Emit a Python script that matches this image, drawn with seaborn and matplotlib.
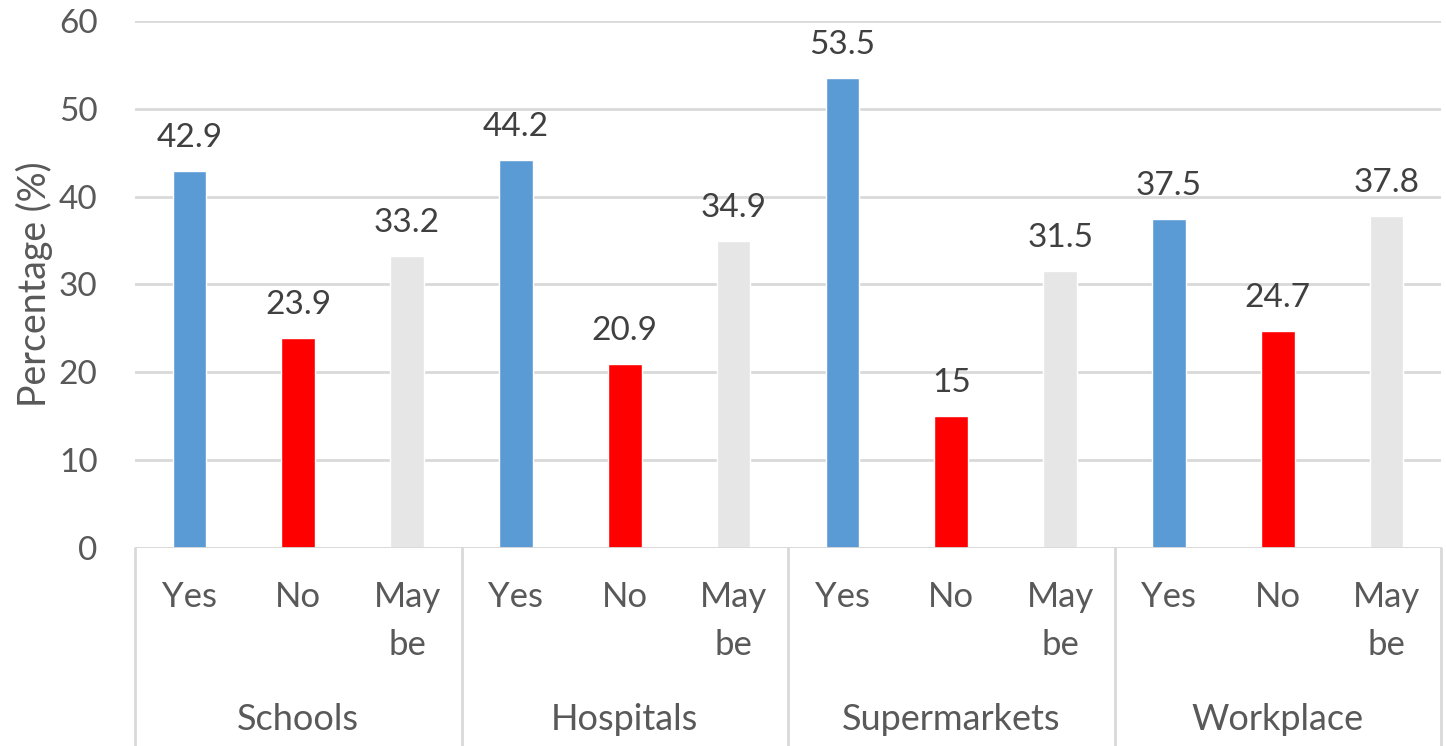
import pandas as pd
import seaborn as sns
import matplotlib.pyplot as plt
import matplotlib.transforms as mtransforms

# survey answers per place
places = ["Schools", "Hospitals", "Supermarkets", "Workplace"]
responses = ["Yes", "No", "May be"]
yes_vals = [42.9, 44.2, 53.5, 37.5]
no_vals = [23.9, 20.9, 15, 24.7]
maybe_vals = [33.2, 34.9, 31.5, 37.8]

colors = {"Yes": "#5B9BD5", "No": "#FF0000", "May be": "#E7E6E6"}
text_col = "#595959"
grid_col = "#D9D9D9"

# long table, one row per bar
rows = []
for i, p in enumerate(places):
    for r, vals in zip(responses, [yes_vals, no_vals, maybe_vals]):
        rows.append({"place": p, "response": r, "slot": p + "|" + r, "value": vals[i]})
df = pd.DataFrame(rows)

sns.set_theme(style="white")
plt.rcParams["font.family"] = ["Lato", "DejaVu Sans"]

fig = plt.figure(figsize=(14.46, 7.46), dpi=100)
ax = fig.add_axes([135 / 1446, 198 / 746, 1306 / 1446, 527 / 746])

sns.barplot(data=df, x="slot", y="value", hue="response", order=df["slot"].tolist(),
            hue_order=responses, palette=colors, dodge=False, width=0.31,
            saturation=1, legend=False, ax=ax)

ax.set_ylim(0, 60)
ax.set_xlim(-0.5, len(df) - 0.5)
ax.set_yticks(range(0, 61, 10))
ax.yaxis.grid(True, color=grid_col, linewidth=2)
ax.set_axisbelow(True)
for s in ax.spines.values():
    s.set_visible(False)
ax.axhline(0, color=grid_col, linewidth=2, zorder=3)

ax.tick_params(axis="both", length=0, labelcolor=text_col)
ax.tick_params(axis="y", labelsize=24, pad=27)
ax.set_xticks(range(len(df)))
ax.set_xticklabels(["May\nbe" if r == "May be" else r for r in df["response"]],
                   fontsize=25, linespacing=1.62, va="top")
ax.tick_params(axis="x", pad=24)

ax.set_xlabel("")
ax.set_ylabel("Percentage (%)", fontsize=27, color=text_col, labelpad=4)

# data labels
for cont in ax.containers:
    ax.bar_label(cont, labels=[f"{b.get_height():g}" for b in cont],
                 padding=13, fontsize=24, color="#404040")

# group labels and separators below the axis
trans = mtransforms.blended_transform_factory(ax.transData, ax.transAxes)
for i, p in enumerate(places):
    ax.text(i * 3 + 1, -0.326, p, transform=trans, ha="center", va="center",
            fontsize=26, color=text_col)
for k in range(len(places) + 1):
    ax.plot([k * 3 - 0.5, k * 3 - 0.5], [0, -0.4], transform=trans,
            color=grid_col, linewidth=2, clip_on=False)

fig.savefig("out.png", dpi=100)
